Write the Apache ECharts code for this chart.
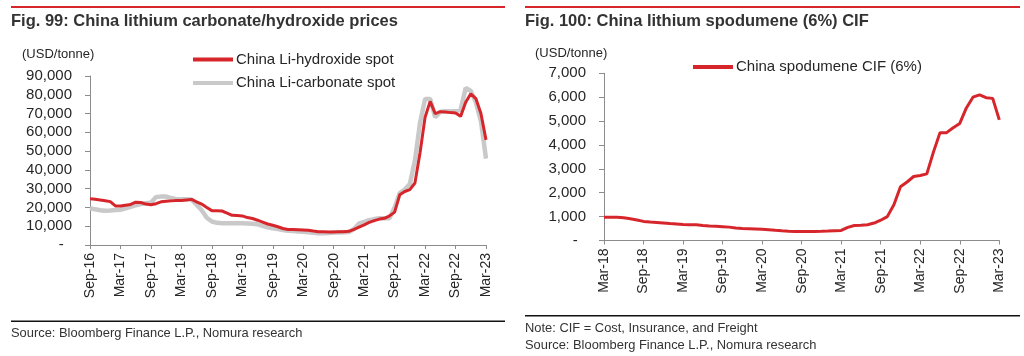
<!DOCTYPE html>
<html>
<head>
<meta charset="utf-8">
<script src="https://cdn.jsdelivr.net/npm/echarts@6/dist/echarts.min.js"></script>
<style>
html,body{margin:0;padding:0;background:#fff;}
#c{width:1024px;height:356px;}
</style>
</head>
<body>
<div id="c"></div>
<script>
// ---------- data ----------
const monthNames = ['Jan','Feb','Mar','Apr','May','Jun','Jul','Aug','Sep','Oct','Nov','Dec'];
function monthLabels(startMonth, startYear, count) {
  const out = [];
  for (let i = 0; i < count; i++) {
    const m = (startMonth + i) % 12;
    const y = startYear + Math.floor((startMonth + i) / 12);
    out.push(monthNames[m] + '-' + String(y % 100).padStart(2, '0'));
  }
  return out;
}
// Left chart: monthly, Sep-16 .. Mar-23
const leftCategories = monthLabels(8, 2016, 79);
// USD/tonne
const liHydroxide = [
  24600, 24400, 24000, 23600, 23100, 20800, 20800, 21200, 21600, 22800,
  22600, 21800, 21400, 22000, 23000, 23300, 23500, 23700, 23700, 24000,
  24300, 23000, 21800, 20000, 18300, 18200, 18100, 17000, 15800, 15700,
  15500, 14600, 14100, 13200, 12200, 11200, 10500, 9700, 8800, 8300,
  8200, 8100, 8000, 7800, 7400, 7100, 7000, 6900, 6900, 7000,
  7100, 7300, 8300, 9500, 10700, 12000, 13000, 13800, 14200, 15500,
  17500, 26700, 28500, 29500, 33000, 49000, 68000, 76500, 70000, 71000,
  70800, 70500, 70300, 68500, 76000, 80500, 78000, 70000, 56000
];
const liCarbonate = [
  19600, 19000, 18500, 18300, 18400, 18600, 18800, 19500, 20300, 21200,
  21800, 22200, 22500, 25500, 25800, 25800, 25000, 24400, 24400, 24400,
  24200, 21500, 18500, 14500, 12500, 11800, 11600, 11600, 11600, 11600,
  11600, 11500, 11300, 11000, 10200, 9400, 8900, 8500, 8000, 7600,
  7400, 7200, 7100, 6800, 6500, 6200, 6200, 6400, 6600, 6700,
  6800, 6900, 8500, 11500, 12300, 13200, 13800, 14200, 14200, 14300,
  20000, 27600, 29500, 32500, 45000, 65000, 77800, 77800, 68000, 71000,
  71200, 71200, 71200, 72000, 83600, 82000, 76000, 66000, 46000
];
// Right chart: monthly, Mar-18 .. Mar-23
const rightCategories = monthLabels(2, 2018, 61);
const spodumene = [
  975, 975, 970, 950, 910, 860, 800, 770, 755, 735,
  712, 690, 665, 662, 655, 625, 612, 600, 580, 560,
  520, 505, 495, 485, 470, 450, 425, 405, 390, 380,
  380, 380, 380, 385, 395, 410, 420, 550, 625, 640,
  660, 730, 850, 1000, 1500, 2250, 2450, 2680, 2720, 2790,
  3700, 4516, 4516, 4720, 4900, 5550, 6000, 6100, 5980, 5950, 5050
];
const leftYTicks = { min: 0, max: 90000, interval: 10000 };
const rightYTicks = { min: 0, max: 7000, interval: 1000 };
const titles = ['Fig. 99: China lithium carbonate/hydroxide prices', 'Fig. 100: China lithium spodumene (6%) CIF'];
const unitLabel = '(USD/tonne)';
const seriesNames = ['China Li-hydroxide spot', 'China Li-carbonate spot', 'China spodumene CIF (6%)'];
const footLeft = ['Source: Bloomberg Finance L.P., Nomura research'];
const footRight = ['Note: CIF = Cost, Insurance, and Freight', 'Source: Bloomberg Finance L.P., Nomura research'];

// ---------- chart ----------
const FONT = '"Liberation Sans", Arial, Helvetica, sans-serif';
const RED = '#d7262b';
const GRAY = '#c9c9c9';
const AXIS = '#8c8c8c';
const TXT = '#262626';

function yFmt(v) { return v === 0 ? '-  ' : v.toLocaleString('en-US'); }

function xAxisCfg(idx, cats) {
  return {
    type: 'category', gridIndex: idx, data: cats, boundaryGap: false,
    axisLine: { lineStyle: { color: AXIS, width: 1 } },
    axisTick: { show: true, interval: 5, length: 4, lineStyle: { color: AXIS } },
    axisLabel: { interval: 5, rotate: 90, margin: 8, fontSize: 14, color: TXT, fontFamily: FONT },
    splitLine: { show: false }
  };
}
function yAxisCfg(idx, t) {
  return {
    type: 'value', gridIndex: idx, min: t.min, max: t.max, interval: t.interval,
    axisLine: { show: true, lineStyle: { color: AXIS, width: 1 } },
    axisTick: { show: true, length: 5, lineStyle: { color: AXIS } },
    axisLabel: { formatter: yFmt, margin: 18, fontSize: 15, color: TXT, fontFamily: FONT },
    splitLine: { show: false }
  };
}

const chart = echarts.init(document.getElementById('c'), null, { renderer: 'canvas' });

const graphics = [
  { type: 'rect', shape: { x: 11, y: 6, width: 494, height: 2 }, style: { fill: RED } },
  { type: 'rect', shape: { x: 525, y: 6, width: 495, height: 2 }, style: { fill: RED } },
  { type: 'text', x: 11, y: 21.5, style: { text: titles[0], font: 'bold 16.5px ' + FONT, fill: '#333', verticalAlign: 'middle' } },
  { type: 'text', x: 525, y: 21.5, style: { text: titles[1], font: 'bold 16.5px ' + FONT, fill: '#333', verticalAlign: 'middle' } },
  { type: 'text', x: 22, y: 54.5, style: { text: unitLabel, font: '13px ' + FONT, fill: TXT, verticalAlign: 'middle' } },
  { type: 'text', x: 535, y: 53.5, style: { text: unitLabel, font: '13px ' + FONT, fill: TXT, verticalAlign: 'middle' } },
  { type: 'rect', shape: { x: 11, y: 320.5, width: 494, height: 1.5 }, style: { fill: '#111' } },
  { type: 'rect', shape: { x: 525, y: 315, width: 495, height: 1.5 }, style: { fill: '#111' } },
  { type: 'text', x: 11, y: 333, style: { text: footLeft[0], font: '12.9px ' + FONT, fill: '#333', verticalAlign: 'middle' } },
  { type: 'text', x: 525, y: 328, style: { text: footRight[0], font: '12.9px ' + FONT, fill: '#333', verticalAlign: 'middle' } },
  { type: 'text', x: 525, y: 345, style: { text: footRight[1], font: '12.9px ' + FONT, fill: '#333', verticalAlign: 'middle' } }
];

const legendText = { fontSize: 15, color: TXT, fontFamily: FONT, lineHeight: 18, padding: [0, 0, 0, -2] };

chart.setOption({
  animation: false,
  backgroundColor: '#fff',
  textStyle: { fontFamily: FONT },
  grid: [
    { left: 90, top: 76, width: 396, height: 169 },
    { left: 604, top: 73.3, width: 395.3, height: 167.2 }
  ],
  xAxis: [xAxisCfg(0, leftCategories), xAxisCfg(1, rightCategories)],
  yAxis: [yAxisCfg(0, leftYTicks), yAxisCfg(1, rightYTicks)],
  legend: [
    {
      data: [
        { name: seriesNames[0], icon: 'rect', itemStyle: { color: RED } },
        { name: seriesNames[1], icon: 'rect', itemStyle: { color: GRAY } }
      ],
      orient: 'vertical', left: 193, top: 50.5, padding: 0,
      itemWidth: 40, itemHeight: 4, itemGap: 5.5,
      textStyle: legendText, selectedMode: false
    },
    {
      data: [{ name: seriesNames[2], icon: 'rect', itemStyle: { color: RED } }],
      orient: 'vertical', left: 693, top: 58, padding: 0,
      itemWidth: 40, itemHeight: 4,
      textStyle: legendText, selectedMode: false
    }
  ],
  series: [
    {
      name: seriesNames[1], type: 'line', xAxisIndex: 0, yAxisIndex: 0, data: liCarbonate,
      symbol: 'none', smooth: false, lineStyle: { color: GRAY, width: 4.5 }, itemStyle: { color: GRAY }, z: 2
    },
    {
      name: seriesNames[0], type: 'line', xAxisIndex: 0, yAxisIndex: 0, data: liHydroxide,
      symbol: 'none', smooth: false, lineStyle: { color: RED, width: 3 }, itemStyle: { color: RED }, z: 3
    },
    {
      name: seriesNames[2], type: 'line', xAxisIndex: 1, yAxisIndex: 1, data: spodumene,
      symbol: 'none', smooth: false, lineStyle: { color: RED, width: 3 }, itemStyle: { color: RED }, z: 3
    }
  ],
  graphic: graphics
});
</script>
</body>
</html>
